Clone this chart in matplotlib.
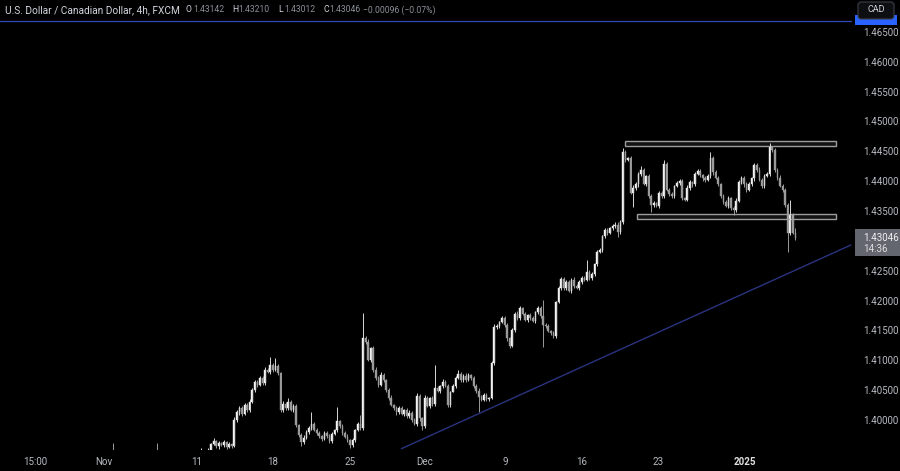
import matplotlib
matplotlib.use('Agg')
import matplotlib.pyplot as plt
from matplotlib.patches import Rectangle, FancyBboxPatch
from matplotlib.transforms import IdentityTransform

plt.rcParams['font.family'] = ['Roboto', 'DejaVu Sans']

# 4h candles, bar index 40 .. 309 (open = previous close)
first_bar = 40
first_open = 1.3928
closes = [
    1.3925, 1.3930, 1.3940, 1.3935, 1.3920, 1.3915, 1.3910, 1.3918, 1.3912, 1.3905,
    1.3900, 1.3895, 1.3890, 1.3898, 1.3905, 1.3910, 1.3902, 1.3915, 1.3925, 1.3930,
    1.3935, 1.3920, 1.3900, 1.3890, 1.3885, 1.3895, 1.3905, 1.3912, 1.3920, 1.3915,
    1.3925, 1.3930, 1.3928, 1.3935, 1.3940, 1.3932, 1.3925, 1.3930, 1.3938, 1.3942,
    1.3945, 1.3950, 1.3960, 1.3965, 1.3956, 1.3961, 1.3958, 1.3963, 1.3955, 1.3960,
    1.3956, 1.4000, 1.4013, 1.4020, 1.4010, 1.4025, 1.4017, 1.4030, 1.4050, 1.4064,
    1.4059, 1.4070, 1.4062, 1.4084, 1.4080, 1.4092, 1.4084, 1.4090, 1.4079, 1.4017,
    1.4027, 1.4020, 1.4030, 1.4017, 1.4023, 1.3992, 1.3975, 1.3963, 1.3970, 1.3980,
    1.3987, 1.3993, 1.3983, 1.3978, 1.3973, 1.3968, 1.3978, 1.3973, 1.3965, 1.3977,
    1.3983, 1.3998, 1.3990, 1.3978, 1.3972, 1.3966, 1.3958, 1.3966, 1.3983, 1.3993,
    1.3987, 1.4137, 1.4131, 1.4101, 1.4121, 1.4084, 1.4070, 1.4059, 1.4075, 1.4067,
    1.4050, 1.4037, 1.4025, 1.4020, 1.4013, 1.4020, 1.4010, 1.4017, 1.4007, 1.4012,
    1.4000, 1.3993, 1.4040, 1.4003, 1.3990, 1.4037, 1.4023, 1.4037, 1.4027, 1.4054,
    1.4049, 1.4057, 1.4064, 1.4057, 1.4025, 1.4047, 1.4057, 1.4070, 1.4077, 1.4067,
    1.4074, 1.4067, 1.4075, 1.4070, 1.4057, 1.4049, 1.4039, 1.4034, 1.4042, 1.4035,
    1.4037, 1.4095, 1.4156, 1.4157, 1.4164, 1.4171, 1.4159, 1.4137, 1.4124, 1.4151,
    1.4178, 1.4171, 1.4188, 1.4178, 1.4168, 1.4176, 1.4171, 1.4166, 1.4181, 1.4188,
    1.4174, 1.4159, 1.4157, 1.4149, 1.4146, 1.4141, 1.4198, 1.4221, 1.4236, 1.4221,
    1.4231, 1.4216, 1.4235, 1.4224, 1.4221, 1.4231, 1.4238, 1.4235, 1.4248, 1.4238,
    1.4245, 1.4261, 1.4281, 1.4285, 1.4308, 1.4318, 1.4313, 1.4322, 1.4325, 1.4327,
    1.4315, 1.4332, 1.4449, 1.4436, 1.4439, 1.4380, 1.4389, 1.4395, 1.4412, 1.4419,
    1.4395, 1.4409, 1.4375, 1.4360, 1.4363, 1.4358, 1.4380, 1.4375, 1.4429, 1.4385,
    1.4379, 1.4375, 1.4392, 1.4397, 1.4400, 1.4372, 1.4369, 1.4389, 1.4399, 1.4395,
    1.4412, 1.4417, 1.4410, 1.4405, 1.4402, 1.4409, 1.4439, 1.4415, 1.4405, 1.4395,
    1.4375, 1.4365, 1.4358, 1.4372, 1.4355, 1.4352, 1.4367, 1.4399, 1.4405, 1.4395,
    1.4385, 1.4395, 1.4405, 1.4427, 1.4419, 1.4402, 1.4392, 1.4409, 1.4412, 1.4457,
    1.4452, 1.4419, 1.4405, 1.4392, 1.4385, 1.4360, 1.4313, 1.4343, 1.4314, 1.43046,
]
# wick lengths in pips above / below the body
wick_up = [
    3, 2, 4, 3, 0, 2, 3, 2, 3, 2,
    2, 3, 2, 3, 2, 3, 2, 2, 3, 2,
    3, 0, 2, 3, 2, 3, 2, 3, 2, 3,
    2, 3, 2, 2, 3, 2, 3, 2, 0, 2,
    3, 3, 2, 4, 2, 3, 2, 3, 2, 3,
    2, 5, 3, 4, 3, 4, 3, 5, 4, 3,
    3, 4, 3, 5, 3, 0, 3, 0, 3, 2,
    4, 3, 0, 3, 4, 3, 2, 3, 4, 3,
    3, 2, 3, 4, 3, 2, 3, 3, 4, 3,
    2, 3, 2, 3, 3, 4, 2, 3, 2, 3,
    0, 0, 3, 4, 2, 3, 4, 3, 5, 3,
    2, 3, 4, 2, 3, 4, 3, 2, 3, 4,
    3, 4, 6, 3, 2, 4, 3, 2, 3, 0,
    3, 2, 4, 3, 3, 2, 3, 4, 2, 3,
    3, 4, 3, 2, 3, 4, 5, 3, 4, 3,
    2, 3, 4, 3, 2, 3, 4, 3, 2, 3,
    3, 4, 3, 2, 3, 2, 4, 3, 2, 3,
    3, 2, 4, 3, 2, 3, 2, 3, 4, 3,
    3, 4, 3, 5, 3, 3, 4, 3, 2, 4,
    3, 2, 4, 3, 2, 4, 3, 2, 3, 4,
    4, 3, 4, 3, 2, 3, 5, 4, 3, 2,
    3, 2, 3, 4, 3, 2, 4, 3, 6, 3,
    4, 3, 2, 3, 4, 3, 2, 4, 3, 2,
    3, 4, 3, 2, 4, 3, 2, 3, 4, 3,
    2, 3, 4, 3, 2, 3, 4, 3, 3, 3,
    4, 3, 2, 3, 4, 5, 4, 3, 3, 2,
    2, 4, 3, 5, 4, 3, 4, 0, 3, 0,
]
wick_dn = [
    2, 3, 2, 3, 2, 3, 2, 3, 2, 3,
    3, 2, 3, 2, 3, 2, 3, 2, 3, 2,
    2, 3, 2, 3, 2, 3, 2, 3, 2, 3,
    3, 2, 3, 2, 3, 2, 3, 2, 3, 2,
    2, 3, 4, 2, 3, 4, 2, 3, 3, 2,
    3, 2, 3, 4, 3, 2, 4, 3, 2, 3,
    3, 2, 4, 3, 2, 3, 4, 2, 3, 4,
    3, 4, 3, 2, 3, 4, 3, 0, 3, 2,
    4, 3, 2, 3, 4, 3, 2, 3, 4, 3,
    2, 3, 4, 3, 2, 3, 0, 4, 3, 2,
    3, 4, 3, 2, 4, 3, 3, 4, 2, 3,
    3, 4, 2, 3, 4, 3, 2, 3, 3, 4,
    3, 2, 3, 4, 0, 3, 2, 3, 4, 3,
    2, 4, 3, 2, 3, 3, 0, 3, 2, 3,
    4, 3, 2, 3, 4, 3, 2, 3, 3, 4,
    3, 2, 3, 4, 3, 2, 3, 4, 3, 2,
    3, 4, 3, 2, 3, 4, 3, 2, 3, 3,
    4, 0, 3, 2, 3, 4, 3, 2, 3, 4,
    3, 2, 4, 3, 2, 3, 4, 3, 2, 3,
    3, 4, 3, 2, 3, 4, 3, 2, 3, 4,
    0, 3, 3, 4, 3, 2, 0, 3, 4, 3,
    2, 3, 4, 0, 3, 2, 3, 4, 3, 2,
    3, 4, 3, 2, 3, 4, 3, 2, 3, 4,
    3, 2, 3, 4, 3, 2, 3, 4, 2, 3,
    4, 3, 2, 3, 4, 0, 3, 2, 3, 4,
    3, 2, 3, 4, 3, 2, 4, 3, 2, 3,
    3, 4, 3, 2, 3, 4, 0, 3, 3, 0,
]
# long wicks: bar index -> price
high_marks = {44: 1.3962, 61: 1.3962, 78: 1.3953, 105: 1.4106, 107: 1.4104,
              112: 1.4037, 121: 1.4013, 131: 1.4022, 140: 1.4008, 141: 1.4179,
              169: 1.4092, 178: 1.4084, 211: 1.4201, 228: 1.4268, 242: 1.4456,
              249: 1.4425, 276: 1.4449, 299: 1.4464, 307: 1.4369, 309: 1.43210}
low_marks = {117: 1.3956, 136: 1.3953, 164: 1.3983, 186: 1.4013, 211: 1.4122,
             240: 1.4307, 246: 1.4357, 253: 1.4348, 285: 1.4343, 306: 1.4281,
             309: 1.43012}

# range boxes (x0, x1, low, high) and trendline
box_top = (243, 324.7, 1.4459, 1.4467)
box_low = (247.4, 324.7, 1.4337, 1.4345)
trend_x = [156, 330.5]
trend_y = [1.3952, 1.4293]
alert_level = 1.4668

x_ticks = [13.6, 40.4, 76.5, 106, 135.9, 165, 196.1, 226, 255.5, 289.3]
x_labels = ['15:00', 'Nov', '11', '18', '25', 'Dec', '9', '16', '23', '2025']
y_ticks = [1.400, 1.405, 1.410, 1.415, 1.420, 1.425, 1.435, 1.440, 1.445,
           1.450, 1.455, 1.460, 1.465]

W, H = 900, 471
fig = plt.figure(figsize=(W / 100, H / 100), dpi=100, facecolor='black')
ax = fig.add_axes([0, 21 / H, 852 / W, 450 / H])
ax.set_facecolor('black')
ax.set_xlim(0, 331)
ax.set_ylim(1.39497, 1.47035)

pip = 0.0001
xs, lo, hi, bottoms, heights, cols, wcols = [], [], [], [], [], [], []
prev = first_open
for k, c in enumerate(closes):
    i = first_bar + k
    o = prev
    up = c >= o
    top = high_marks.get(i, max(o, c) + wick_up[k] * pip)
    bot = low_marks.get(i, min(o, c) - wick_dn[k] * pip)
    xs.append(i)
    hi.append(top)
    lo.append(bot)
    bottoms.append(min(o, c))
    heights.append(max(abs(c - o), 0.00009))
    cols.append('#f2f2f2' if up else '#9a9a9a')
    wcols.append('#d8d8d8' if up else '#9a9a9a')
    prev = c

ax.vlines(xs, lo, hi, colors=wcols, linewidth=0.7)
ax.bar(xs, heights, bottom=bottoms, width=0.62, color=cols, edgecolor=cols, linewidth=0.3)

for x0, x1, y0, y1 in (box_top, box_low):
    ax.add_patch(Rectangle((x0, y0), x1 - x0, y1 - y0, facecolor=(1, 1, 1, 0.08),
                           edgecolor='#9c9c9c', linewidth=1.0))

ax.plot(trend_x, trend_y, color='#2a337e', linewidth=1.0)
ax.axhline(alert_level, color='#3347b5', linewidth=0.9)

for s in ax.spines.values():
    s.set_visible(False)
ax.yaxis.tick_right()
ax.set_yticks(y_ticks, [f'{v:.5f}' for v in y_ticks])
ax.set_xticks(x_ticks, x_labels)
ax.tick_params(axis='y', length=0, pad=8, labelsize=7, labelcolor='#b8bbc2')
ax.tick_params(axis='x', length=0, pad=5, labelsize=7, labelcolor='#b8bbc2')
ax.get_xticklabels()[-1].set_fontweight('bold')
ax.get_xticklabels()[-1].set_color('#e0e0e0')

# header
hy = 1 - 10 / H
fig.text(5 / W, hy, 'U.S. Dollar / Canadian Dollar, 4h, FXCM', color='#d1d4dc',
         fontsize=7.3, va='center')
head = [(186, 'O', '#d1d4dc'), (193, '1.43142', '#8c8f98'), (232, 'H', '#d1d4dc'),
        (238, '1.43210', '#8c8f98'), (278, 'L', '#d1d4dc'), (284, '1.43012', '#8c8f98'),
        (323, 'C', '#d1d4dc'), (329, '1.43046', '#8c8f98'),
        (363, '\u22120.00096 (\u22120.07%)', '#8c8f98')]
for px, s, col in head:
    fig.text(px / W, hy, s, color=col, fontsize=6.2, va='center')

# right-hand price labels
pix = IdentityTransform()
fig.add_artist(Rectangle((855, H - 25), 42, 10, facecolor='#2962ff', transform=pix))
fig.add_artist(FancyBboxPatch((858, H - 19), 36, 17, boxstyle='round,pad=0,rounding_size=3',
                              facecolor='#0e0f12', edgecolor='#3c3f47', linewidth=0.8,
                              transform=pix))
fig.text(876 / W, 1 - 10 / H, 'CAD', color='#d1d4dc', fontsize=6.5, ha='center', va='center')

fig.add_artist(Rectangle((855, H - 256), 45, 27, facecolor='#63666f', transform=pix))
fig.text(863 / W, 1 - 238 / H, f'{closes[-1]:.5f}', color='#f0f0f0', fontsize=7, va='center')
fig.text(863 / W, 1 - 249.5 / H, '14:36', color='#e0e0e0', fontsize=7, va='center')

fig.savefig('out.png', dpi=100, facecolor='black')
